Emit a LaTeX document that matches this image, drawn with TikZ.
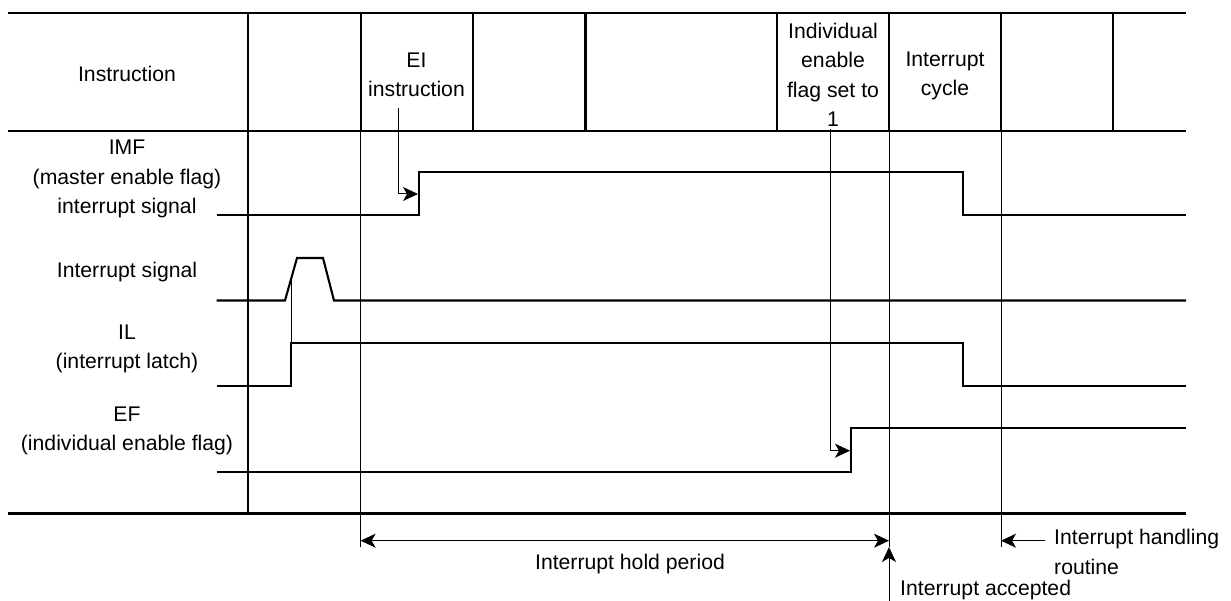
\documentclass[tikz,border=0pt]{standalone}
\usepackage{fontspec}
\setmainfont{Liberation Sans}
\usetikzlibrary{arrows.meta}
\begin{document}
\begin{tikzpicture}[x=1pt,y=-1pt,
  frame/.style={line width=2.1pt},
  sig/.style={line width=2.1pt, line join=miter},
  guide/.style={line width=1pt},
  lbl/.style={font=\fontsize{21.2}{29.5}\selectfont, align=center, inner sep=0pt},
  arr/.style={line width=1pt, -{Stealth[length=15pt,width=14pt,inset=4pt]}},
  dblarr/.style={line width=1pt, {Stealth[length=15pt,width=14pt,inset=4pt]}-{Stealth[length=15pt,width=14pt,inset=4pt]}},
]
\useasboundingbox (0,0) rectangle (1231,601);

% frame
\draw[frame] (8,13) -- (1186,13);
\draw[frame] (8,131) -- (1186,131);
\draw[frame] (8,513.5) -- (1186,513.5);
\draw[frame] (248,13) -- (248,513.5);
\foreach \x in {360.6,473,585.5,777,889,1001,1113}
  \draw[frame] (\x,13) -- (\x,131);

% header texts
\node[lbl] (instr) at (127,74) {Instruction};
\node[lbl] (ei) at (416.5,75) {EI\\instruction};
\node[lbl] (ief) at (833,75) {Individual\\enable\\flag set to\\1};
\node[lbl] (icyc) at (945,76) {Interrupt\\cycle};

% left labels
\node[lbl] (imf) at (127,179) {IMF\\(master enable flag)\\interrupt signal};
\node[lbl] (isig) at (127,272) {Interrupt signal};
\node[lbl] (il) at (127,349) {IL\\(interrupt latch)};
\node[lbl] (ef) at (127,431) {EF\\(individual enable flag)};

% guide lines
\coordinate (g1t) at (360.6,131); \coordinate (g1b) at (360.6,547);
\coordinate (g2t) at (889,131);   \coordinate (g2b) at (889,547);
\coordinate (g3t) at (1001,131);  \coordinate (g3b) at (1001,547);
\draw[guide] (g1t) -- (g1b);
\draw[guide] (g2t) -- (g2b);
\draw[guide] (g3t) -- (g3b);

% signals
\draw[sig] (216.7,215) -- (419,215) -- (419,172) -- (963.4,172) -- (963.4,215) -- (1186,215);
\draw[sig] (216.7,300.5) -- (285,300.5) -- (297,258) -- (323,258) -- (334,300.5) -- (1186,300.5);
\draw[sig] (216.7,386) -- (291.4,386) -- (291.4,342.7) -- (963.4,342.7) -- (963.4,386) -- (1186,386);
\draw[sig] (216.7,471.7) -- (851,471.7) -- (851,428.3) -- (1186,428.3);

% triggers
\coordinate (eis) at (398,108); \coordinate (eie) at (418,194);
\draw[arr] (eis) |- (eie);
\coordinate (ils) at (291.4,277.8); \coordinate (ile) at (291.4,343);
\draw[guide] (ils) -- (ile);
\coordinate (efs) at (830,129); \coordinate (efe) at (850,450.7);
\draw[arr] (efs) |- (efe);

% bottom annotations
\coordinate (h1) at (360.6,540.7); \coordinate (h2) at (889,540.7);
\draw[dblarr] (h1) -- (h2);
\node[lbl] (hold) at (630,564) {Interrupt hold period};

\coordinate (accf) at (889,601); \coordinate (acct) at (889,547);
\draw[arr] (accf) -- (acct);
\node[lbl, anchor=west] (acc) at (900,590) {Interrupt accepted};

\coordinate (hs) at (1045,540.7); \coordinate (he) at (1001,540.7);
\draw[arr] (hs) -- (he);
\node[lbl, anchor=west, align=left] (hand) at (1054,552) {Interrupt handling\\routine};
\end{tikzpicture}
\end{document}
